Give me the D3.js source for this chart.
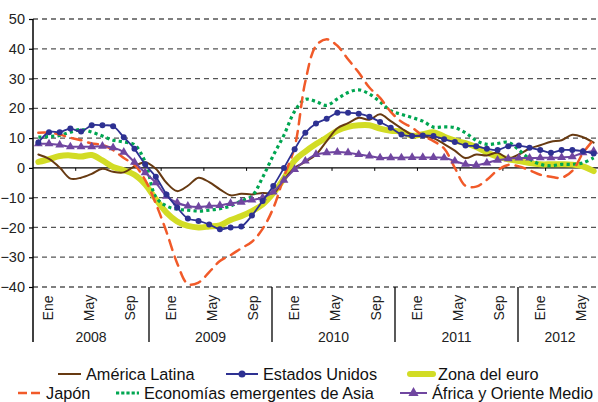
<!DOCTYPE html>
<html><head><meta charset="utf-8">
<script src="https://cdnjs.cloudflare.com/ajax/libs/d3/7.8.5/d3.min.js"></script>
<style>html,body{margin:0;padding:0;background:#fff;}svg{display:block;font-family:"Liberation Sans",Arial,sans-serif;}</style>
</head><body><svg id="c" width="598" height="402"></svg>
<script>
const years = ["2008","2009","2010","2011","2012"];
const monthTickLabels = ["Ene","May","Sep"];
const yTicks = [-40,-30,-20,-10,0,10,20,30,40,50];
const nMonths = 53;
const americaLatina = [4.5,3,0.1,-3.6,-3.3,-2,-0.3,-1.3,-1.5,0.5,1.9,-0.3,-5,-7.8,-6,-3.3,-4.8,-7.2,-9.2,-8.7,-8.9,-8.4,-8.5,-4,0,2,4.5,9,13.3,15,16.8,16.2,18,15.7,13.3,11.1,10.6,10,8,5.8,3.3,4.5,4.2,5.1,3.2,4.5,6.5,7.6,8.8,9.3,11.1,10.3,8.5];
const estadosUnidos = [8.5,12,12,13.2,12.2,14.3,14.3,14,10.3,6.4,1.2,-3,-8.9,-13.3,-17,-17.8,-19,-20.6,-20,-19.7,-16,-11.1,-6.1,0,6.3,11.8,14.9,16.5,18.5,18.5,18.2,17.2,15.4,13.5,11.2,10.7,10.9,10.7,9.6,8.7,7.5,7.3,6.4,6,7.3,7.5,6.8,6,5.1,6,6,5.6,4.8];
const zonaEuro = [2,2.9,4,4.2,3.8,4.3,2.5,0.3,-0.8,-2.3,-5.5,-10.5,-15,-18,-19.5,-20,-19.7,-19.3,-17.5,-16.2,-14.5,-12.3,-8.5,-3.5,2.5,5.5,8,10.2,12.5,13.8,14.3,14.3,13.2,12.5,12.2,10.8,11.3,12,10.5,9.2,8.3,7,5.2,3.8,2.9,2.3,1.6,1.2,1.2,1.2,1.1,0.5,-1.1];
const japon = [11.8,11.8,11.2,10.1,9.3,8.2,7.7,6,3.3,1,-4,-12,-21.5,-32,-39,-38.5,-35,-31.3,-29.3,-27,-24.8,-20.5,-13.5,-3,7,29,41,43.2,41,36.5,32,27,23.5,18.8,15.5,13.5,10.8,9,6.5,0,-6,-6.3,-4,-0.8,1,0.5,-0.8,-2.3,-3,-3.3,-1,5,9.5];
const asiaEmergente = [10.3,10.5,10.9,12,12.9,12,10.7,9.3,8.7,7.8,2,-9.8,-12.8,-13.9,-14.2,-14.5,-14.2,-13.7,-12.8,-11.1,-9.5,-3.2,4.2,11,19,23,22.3,21,23.2,25.3,26.2,24.8,22.2,19.2,18,16.9,15.7,13.7,13.8,13.5,11.8,9.2,7.9,8.2,8.6,6,3,1.2,0.7,1.2,1.2,1.7,3.4];
const africaOriente = [8.1,8.1,7.7,7.1,7.1,7.1,7.3,6.8,5.3,1.9,-1.6,-5,-9.5,-11.7,-12.8,-13.1,-12.8,-12.6,-11.9,-11.5,-10.8,-10,-8.1,-4.1,-0.5,2.3,4.5,5.1,5.3,5.1,4.5,4,3.4,3.4,3.4,3.5,3.5,3.5,3.4,2.3,1.2,0.9,1.7,2.6,3.1,3.3,3.3,3.4,3.4,3.5,3.8,5.1,5.6];
const seriesNames = ["América Latina","Estados Unidos","Zona del euro","Japón","Economías emergentes de Asia","África y Oriente Medio"];

const series = [
  {name:seriesNames[0], values:americaLatina, color:"#673a12", width:2, dash:null, marker:null},
  {name:seriesNames[1], values:estadosUnidos, color:"#2e3192", width:1.8, dash:null, marker:"circle"},
  {name:seriesNames[2], values:zonaEuro, color:"#d2dc25", width:6, dash:null, marker:null},
  {name:seriesNames[3], values:japon, color:"#f15a29", width:2.5, dash:"10,7", marker:null},
  {name:seriesNames[4], values:asiaEmergente, color:"#00a651", width:3.2, dash:"3.2,3.2", marker:null},
  {name:seriesNames[5], values:africaOriente, color:"#7046a0", width:2, dash:null, marker:"triangle"}
];

const svg = d3.select("#c");
const L = 33, R = 599, T = 19, B = 287;
const x = d3.scaleBand().domain(d3.range(nMonths)).range([L, R]);
const cx = i => x(i) + x.bandwidth()/2;
const y = d3.scaleLinear().domain([-40, 50]).range([B, T]);
// label band used by the multi-level category labels
const xl = d3.scaleLinear().domain([0, nMonths]).range([26, 26 + nMonths*10.25]);

// gridlines
svg.append("g").selectAll("line").data(yTicks.filter(d => d !== 0)).join("line")
  .attr("x1", L).attr("x2", 598).attr("y1", d => y(d)).attr("y2", d => y(d))
  .attr("stroke", "#555").attr("stroke-width", 1.3).attr("stroke-dasharray", "5,4");

// y axis
const yAxis = d3.axisLeft(y).tickValues(yTicks).tickSize(4).tickPadding(4).tickFormat(d3.format("d"));
const ga = svg.append("g").attr("transform", `translate(${L},0)`).call(yAxis);
ga.select(".domain").remove();
ga.selectAll("line").attr("stroke", "#000").attr("stroke-width", 1.2);
ga.selectAll("text").attr("font-size", 14.5).attr("fill", "#222").attr("font-family", "Liberation Sans, Arial, sans-serif");
svg.append("line").attr("x1", L).attr("x2", L).attr("y1", T).attr("y2", 342).attr("stroke", "#000").attr("stroke-width", 1.5);

// zero line with ticks
svg.append("line").attr("x1", L).attr("x2", 598).attr("y1", y(0)).attr("y2", y(0)).attr("stroke", "#000").attr("stroke-width", 1.3);
svg.append("g").selectAll("line").data(d3.range(4, nMonths, 4)).join("line")
  .attr("x1", d => x(d)).attr("x2", d => x(d)).attr("y1", y(0)).attr("y2", y(0) + 3)
  .attr("stroke", "#000").attr("stroke-width", 1);

// category labels
const monthIdx = d3.range(0, nMonths, 4);
svg.append("g").selectAll("text").data(monthIdx).join("text")
  .attr("transform", d => `translate(${xl(d + 2.1)},308) rotate(-90)`)
  .attr("text-anchor", "middle").attr("dominant-baseline", "central")
  .attr("font-size", 14).attr("fill", "#222")
  .text(d => monthTickLabels[(d % 12) / 4]);
const seps = years.map((yr, k) => k === 0 ? L : xl(12*k));
svg.append("g").selectAll("line").data(seps.slice(1)).join("line")
  .attr("x1", d => d).attr("x2", d => d).attr("y1", B).attr("y2", 342)
  .attr("stroke", "#000").attr("stroke-width", 1.3);
svg.append("g").selectAll("text").data(years).join("text")
  .attr("x", (d, k) => ((seps[k]) + (k < years.length - 1 ? seps[k+1] : 602)) / 2)
  .attr("y", 342).attr("text-anchor", "middle").attr("font-size", 14).attr("fill", "#222")
  .text(d => d);

// lines
const line = d3.line().x((d, i) => cx(i)).y(d => y(d)).curve(d3.curveCatmullRom.alpha(0.5));
const drawOrder = [2, 0, 4, 3, 5, 1];
drawOrder.forEach(k => {
  const s = series[k];
  const g = svg.append("g");
  g.append("path").attr("d", line(s.values)).attr("fill", "none")
    .attr("stroke", s.color).attr("stroke-width", s.width)
    .attr("stroke-linecap", s.dash && k === 4 ? "butt" : "round").attr("stroke-linejoin", "round")
    .attr("stroke-dasharray", s.dash);
  if (s.marker === "circle") {
    g.selectAll("circle").data(s.values).join("circle")
      .attr("cx", (d, i) => cx(i)).attr("cy", d => y(d)).attr("r", 3).attr("fill", s.color);
  } else if (s.marker === "triangle") {
    const tri = d3.symbol().type(d3.symbolTriangle).size(34);
    g.selectAll("path.m").data(s.values).join("path").attr("class", "m")
      .attr("transform", (d, i) => `translate(${cx(i)},${y(d)})`).attr("d", tri()).attr("fill", s.color);
  }
});

// legend
const legendPos = [
  {x: 58, y: 374}, {x: 226, y: 374}, {x: 410, y: 374},
  {x: 18, y: 393}, {x: 116, y: 393}, {x: 400, y: 393}
];
const lg = svg.append("g");
series.forEach((s, k) => {
  const p = legendPos[k];
  const len = (k === 5) ? 27 : (k === 1 ? 32 : 23);
  const g = lg.append("g").attr("transform", `translate(${p.x},${p.y})`);
  g.append("line").attr("x1", 0).attr("x2", len).attr("y1", 0).attr("y2", 0)
    .attr("stroke", s.color).attr("stroke-width", k === 2 ? 6 : (k === 4 ? 3.2 : (k === 3 ? 2.5 : 2)))
    .attr("stroke-linecap", k === 2 ? "round" : "butt")
    .attr("stroke-dasharray", k === 3 ? "9,4" : (k === 4 ? "3.2,2" : null));
  if (s.marker === "circle") g.append("circle").attr("cx", len/2).attr("cy", 0).attr("r", 3.5).attr("fill", s.color);
  if (s.marker === "triangle") g.append("path").attr("transform", `translate(${len/2},0)`).attr("d", d3.symbol().type(d3.symbolTriangle).size(45)()).attr("fill", s.color);
  g.append("text").attr("x", len + 5).attr("y", 0).attr("dominant-baseline", "central")
    .attr("font-size", 16.3).attr("fill", "#111").text(s.name);
});
</script></body></html>
